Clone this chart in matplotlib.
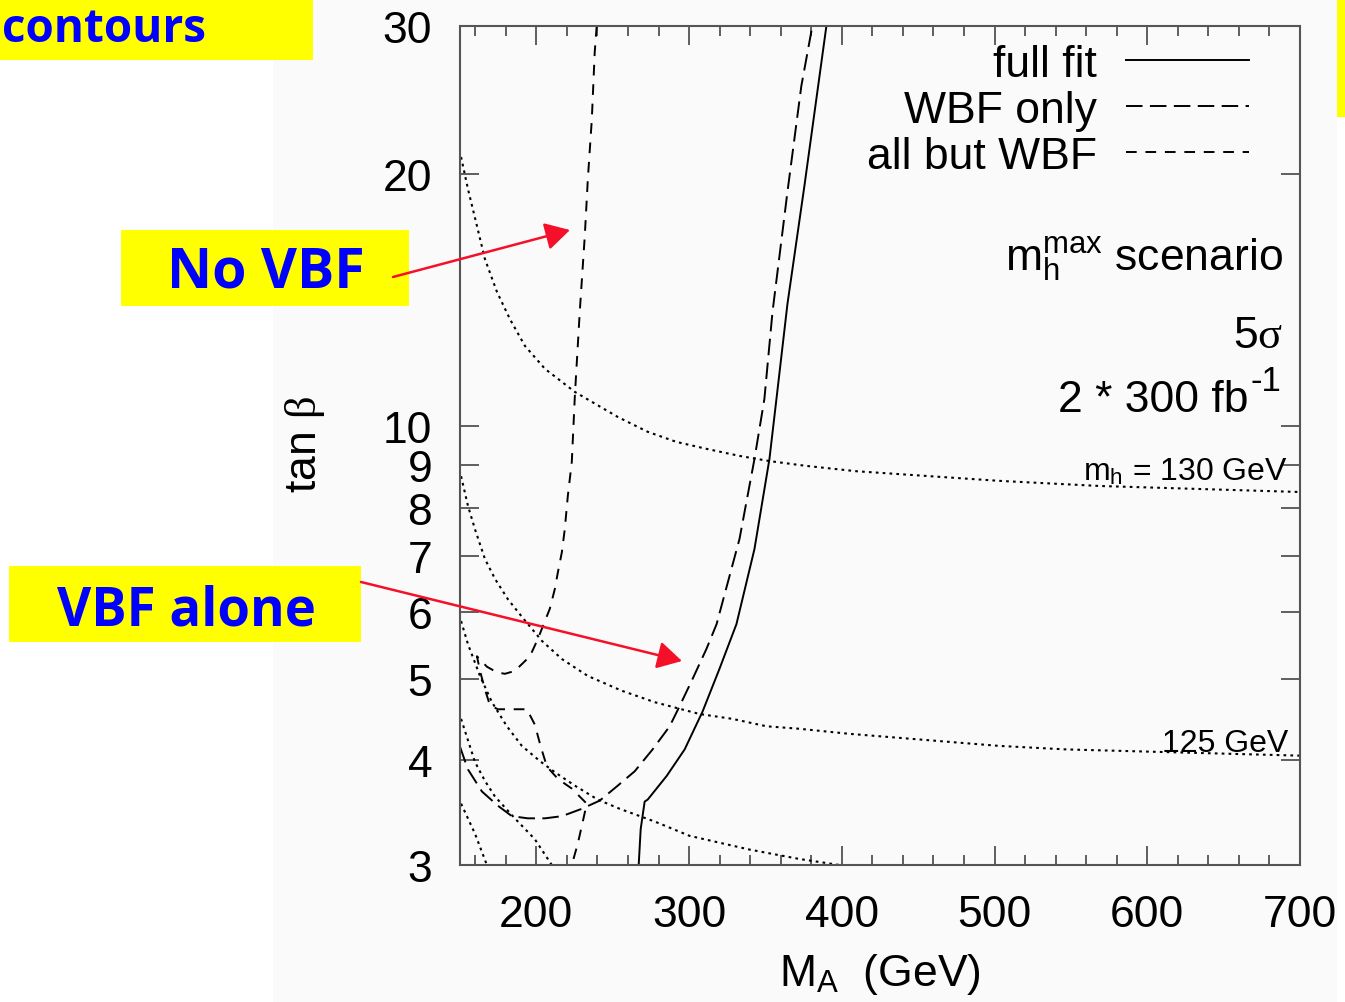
import matplotlib
matplotlib.use("Agg")
import matplotlib.pyplot as plt
from matplotlib.patches import Rectangle, FancyArrowPatch
from matplotlib.lines import Line2D

# ---- contour traces: M_A (GeV) vs tan(beta) ----
full_fit_ma = [267.0, 268.3, 270.9, 272.9, 285.3, 297.1, 308.8, 319.9, 331.0,
               342.8, 352.6, 357.2, 364.4, 375.5, 389.9]
full_fit_tb = [3.0, 3.31, 3.57, 3.59, 3.83, 4.12, 4.57, 5.14, 5.81,
               7.14, 9.14, 10.78, 13.99, 19.34, 30.0]

wbf_only_ma = [150.0, 155.2, 164.4, 174.8, 184.0, 194.4, 205.6, 216.7, 229.7,
               241.5, 253.3, 264.4, 276.1, 287.3, 293.8, 302.3, 311.4, 318.0,
               333.0, 342.8, 349.3, 354.6, 364.4, 373.5, 380.7]
wbf_only_tb = [4.15, 3.90, 3.67, 3.53, 3.43, 3.41, 3.41, 3.43, 3.50,
               3.58, 3.73, 3.88, 4.12, 4.39, 4.64, 5.00, 5.43, 5.81,
               7.34, 9.14, 10.78, 13.68, 19.03, 25.45, 30.0]

no_wbf_ma = [239.5, 238.2, 236.3, 233.7, 231.7, 228.4, 225.2, 223.2, 220.6,
             218.6, 216.7, 214.1, 212.1, 208.8, 205.6, 201.0, 195.8, 185.9,
             179.4, 174.2, 167.6, 161.1, 163.1, 166.3, 169.6, 174.8, 193.8,
             199.0, 202.9, 206.9, 214.1, 223.2, 233.0, 230.4, 227.1, 223.2]
no_wbf_tb = [30.0, 27.9, 23.2, 19.7, 16.86, 13.68, 10.87, 9.07, 8.26,
             7.54, 7.08, 6.70, 6.40, 6.06, 5.86, 5.58, 5.32, 5.11,
             5.07, 5.09, 5.17, 5.32, 5.11, 4.86, 4.65, 4.60, 4.60,
             4.41, 4.15, 3.93, 3.80, 3.70, 3.55, 3.38, 3.18, 3.0]

# light-Higgs mass contours
mh130_ma = [150.7, 155.2, 161.1, 166.3, 174.2, 182.7, 192.5, 205.6, 225.2, 253.3,
            272.9, 291.8, 311.4, 333.0, 352.6, 376.8, 409.5, 502.9, 568.3, 633.7, 700.0]
mh130_tb = [20.94, 19.18, 17.33, 15.83, 14.46, 13.42, 12.47, 11.71, 10.99, 10.26,
            9.85, 9.58, 9.40, 9.22, 9.09, 8.97, 8.84, 8.61, 8.49, 8.42, 8.35]

mh125_ma = [150.7, 155.2, 159.8, 166.3, 172.9, 181.4, 190.5, 203.6, 216.7, 233.7,
            255.9, 277.5, 306.9, 328.4, 350.7, 372.2, 404.9, 502.9, 546.7, 589.9,
            633.7, 700.0]
mh125_tb = [8.72, 8.04, 7.54, 6.95, 6.58, 6.22, 5.93, 5.55, 5.28, 5.04,
            4.84, 4.69, 4.54, 4.48, 4.39, 4.36, 4.30, 4.16, 4.12, 4.10,
            4.08, 4.05]

mh120_ma = [150.7, 155.2, 163.1, 170.9, 180.7, 190.5, 202.3, 212.1, 225.2, 240.2,
            254.6, 277.5, 300.3, 339.5, 372.2, 398.4]
mh120_tb = [5.86, 5.50, 5.04, 4.69, 4.39, 4.16, 3.99, 3.87, 3.73, 3.59,
            3.50, 3.38, 3.25, 3.13, 3.05, 3.0]

mh115_ma = [150.7, 159.8, 166.3, 172.9, 185.9, 199.0, 210.1]
mh115_tb = [4.48, 3.98, 3.78, 3.62, 3.41, 3.22, 3.0]

mh110_ma = [150.7, 159.8, 167.6]
mh110_tb = [3.55, 3.27, 3.0]

x_major = [200, 300, 400, 500, 600, 700]
y_major = [3, 4, 5, 6, 7, 8, 9, 10, 20, 30]
legend_labels = ["full fit", "WBF only", "all but WBF"]

plt.rcParams["font.family"] = ["Liberation Sans", "DejaVu Sans"]
plt.rcParams["mathtext.fontset"] = "custom"
plt.rcParams["mathtext.rm"] = "Liberation Sans"
plt.rcParams["mathtext.it"] = "Liberation Serif"

W, H = 1345, 1003
fig = plt.figure(figsize=(W / 100, H / 100), dpi=100, facecolor="white")


def fx(px):
    return px / W


def fy(py):
    return 1 - py / H


# faint slide background behind the plot
fig.patches.append(Rectangle((fx(273), 0), fx(1337) - fx(273), 1,
                             transform=fig.transFigure, facecolor="#fafafa",
                             edgecolor="none", zorder=-5))

ax = fig.add_axes([fx(460), fy(866), fx(1300) - fx(460), fy(27) - fy(866)])
ax.set_facecolor("none")
ax.set_zorder(2)

lw = 1.4
solid = dict(color="black", lw=lw)
long_dash = dict(color="black", lw=lw, dashes=(8.5, 3.8))
short_dash = dict(color="black", lw=lw, dashes=(5.5, 4.5))
dotted = dict(color="black", lw=1.5, dashes=(1.3, 2.0))

ax.plot(full_fit_ma, full_fit_tb, **solid)
ax.plot(wbf_only_ma, wbf_only_tb, **long_dash)
ax.plot(no_wbf_ma, no_wbf_tb, **short_dash)
for xs, ys in [(mh130_ma, mh130_tb), (mh125_ma, mh125_tb), (mh120_ma, mh120_tb),
               (mh115_ma, mh115_tb), (mh110_ma, mh110_tb)]:
    ax.plot(xs, ys, **dotted)

ax.set_yscale("log")
ax.set_xlim(150, 700)
ax.set_ylim(3, 30)
ax.set_xticks(x_major)
ax.set_xticks(list(range(160, 700, 20)), minor=True)
ax.set_yticks(y_major)
ax.set_yticklabels([str(v) for v in y_major])
ax.yaxis.set_minor_locator(matplotlib.ticker.NullLocator())

ax.tick_params(which="both", direction="in", top=True, right=True,
               colors="#444444", labelcolor="black", width=1.2)
ax.tick_params(which="major", length=14, labelsize=32)
ax.tick_params(which="minor", length=7)
ax.tick_params(axis="x", which="major", pad=21)
ax.tick_params(axis="y", which="major", pad=20)
for s in ax.spines.values():
    s.set_color("#555555")
    s.set_linewidth(1.5)

ax.set_xlabel(r"M$_{\rm A}$  (GeV)", fontsize=32, va="top")
ax.xaxis.set_label_coords(0.5, -0.103)
ax.set_ylabel(r"tan $\beta$", fontsize=32)
ax.yaxis.set_label_coords(-0.158, 0.502)

handles = [Line2D([], [], **solid), Line2D([], [], **long_dash),
           Line2D([], [], **short_dash)]
ax.legend(handles, legend_labels, loc="upper right", markerfirst=False,
          frameon=False, fontsize=32, handlelength=2.76, handletextpad=0.65,
          labelspacing=0.11, borderaxespad=0.0, bbox_to_anchor=(0.960, 1.0))

ax.text(0.98, 0.708, r"m$_{\rm h}^{\rm max}$ scenario", transform=ax.transAxes,
        ha="right", va="baseline", fontsize=32)
ax.text(0.98, 0.617, r"5$\sigma$", transform=ax.transAxes,
        ha="right", va="baseline", fontsize=32)
# luminosity: main text plus a raised "-1"
ax.text(0.9385, 0.541, "2 * 300 fb", transform=ax.transAxes,
        ha="right", va="baseline", fontsize=32)
ax.text(0.9415, 0.5665, "-1", transform=ax.transAxes,
        ha="left", va="baseline", fontsize=25)
ax.text(692, 8.63, r"m$_{\rm h}$ = 130 GeV", ha="right", va="baseline", fontsize=23)
ax.text(692, 4.10, "125 GeV", ha="right", va="baseline", fontsize=23)

# yellow callout boxes
boxes = [(0, 0, 313, 61), (121, 231, 409, 307), (9, 567, 361, 643), (1337, 0, 1345, 118)]
for x0, y0, x1, y1 in boxes:
    fig.patches.append(Rectangle((fx(x0), fy(y1)), fx(x1) - fx(x0), fy(y0) - fy(y1),
                                 transform=fig.transFigure, facecolor="#ffff00",
                                 edgecolor="none", zorder=1))

callout = dict(color="#0000ff", fontweight="bold", family=["Open Sans", "DejaVu Sans"],
               va="baseline", zorder=3)
fig.text(fx(2), fy(42), "contours", ha="left", fontsize=33, **callout)
fig.text(fx(266), fy(288), "No VBF", ha="center", fontsize=40, **callout)
fig.text(fx(186), fy(625), "VBF alone", ha="center", fontsize=38, **callout)

for (x0, y0), (x1, y1) in [((393, 278), (570, 231)), ((361, 583), (682, 662))]:
    fig.patches.append(FancyArrowPatch((fx(x0), fy(y0)), (fx(x1), fy(y1)),
                                       transform=fig.transFigure,
                                       arrowstyle="-|>,head_length=0.75,head_width=0.42",
                                       mutation_scale=20, color="#f5102a", lw=1.8,
                                       shrinkA=0, shrinkB=0, zorder=4))

fig.savefig("out.png", dpi=100, facecolor="white")
